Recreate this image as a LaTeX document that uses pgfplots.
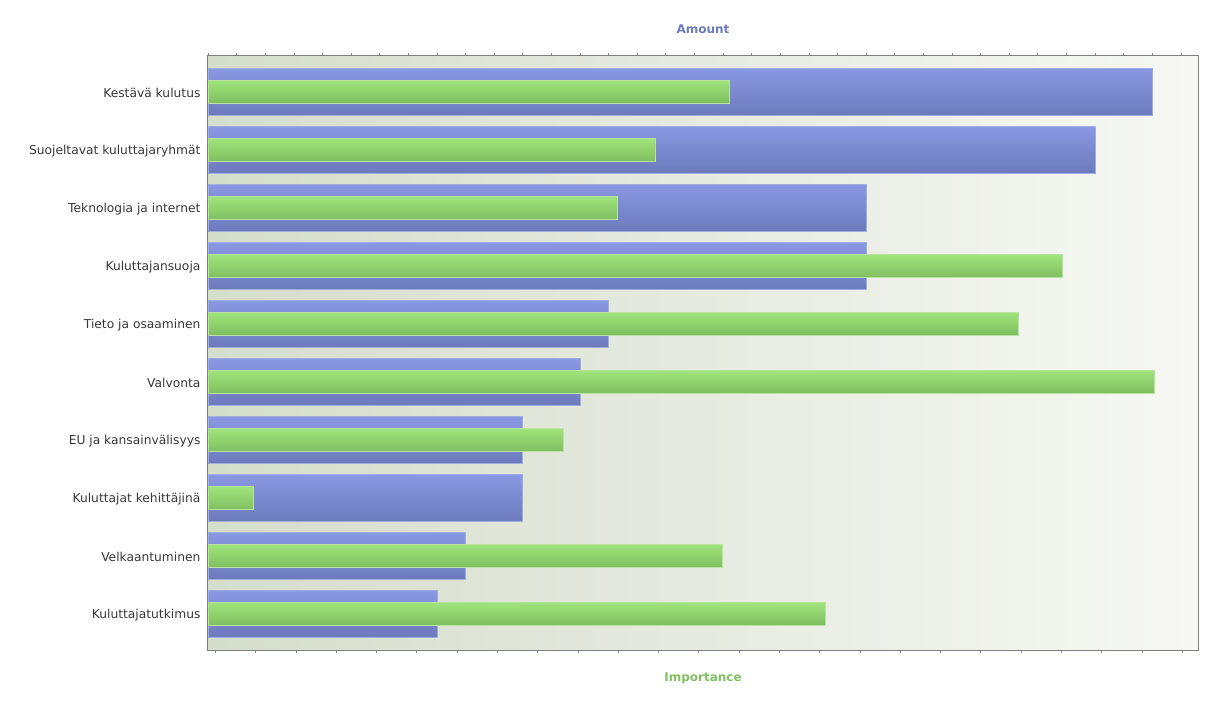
\documentclass[border=0pt]{standalone}
\usepackage{pgfplots}
\pgfplotsset{compat=1.18}
\usepackage{fontspec}
\setmainfont{DejaVu Sans}
\setsansfont{DejaVu Sans}

\definecolor{bgL}{RGB}{213,221,203}
\definecolor{bgR}{RGB}{247,248,244}
\definecolor{blueT}{RGB}{137,152,226}
\definecolor{blueB}{RGB}{108,122,188}
\definecolor{blueE}{RGB}{160,172,228}
\definecolor{greenT}{RGB}{160,228,124}
\definecolor{greenB}{RGB}{128,190,96}
\definecolor{greenE}{RGB}{182,228,160}
\definecolor{amountc}{RGB}{108,122,190}
\definecolor{importc}{RGB}{128,192,96}
\definecolor{framec}{RGB}{128,128,128}
\definecolor{labelc}{RGB}{55,55,55}

% Amount (top axis) and Importance (bottom axis), categories top to bottom
\pgfplotstableread{
idx amount
0 33
1 31
2 23
3 23
4 14
5 13
6 11
7 11
8 9
9 8
}\amounttab
\pgfplotstableread{
idx importance
0 12.95
1 11.09
2 10.15
3 21.20
4 20.12
5 23.48
6 8.83
7 1.12
8 12.77
9 15.31
}\importtab

\begin{document}
\begin{tikzpicture}
\pgfplotsset{
  common/.style={
    scale only axis, width=742.5pt, height=445.5pt,
    xbar, y dir=reverse, ymin=-0.62, ymax=9.62, xmin=0,
    tick align=outside, major tick length=2.5pt,
    tick style={draw=framec, line width=0.5pt},
    axis line style={draw=framec, line width=0.75pt},
    xticklabels={},
  },
}
\begin{axis}[common,
  xmax=34.6,
  xtick={0,1,...,34}, xtick pos=upper,
  ytick={0,...,9}, ytick pos=left, ytick style={draw=none},
  yticklabels={Kestävä kulutus,Suojeltavat kuluttajaryhmät,Teknologia ja internet,Kuluttajansuoja,Tieto ja osaaminen,Valvonta,EU ja kansainvälisyys,Kuluttajat kehittäjinä,Velkaantuminen,Kuluttajatutkimus},
  yticklabel style={font=\fontsize{9.2}{10}\selectfont, text=labelc, inner sep=0pt, xshift=-3pt, yshift=-0.6pt},
  axis background/.style={left color=bgL, right color=bgR},
  xlabel={Amount},
  xlabel style={at={(rel axis cs:0.5,1)}, anchor=center, yshift=20.25pt,
    font=\bfseries\fontsize{9}{10}\selectfont, text=amountc},
]
% one plot per bar so that each bar gets its own vertical shading
\pgfplotsinvokeforeach{0,...,9}{
  \addplot[bar width=35.5pt, bar shift=0pt, top color=blueT, bottom color=blueB,
    draw=blueE, line width=0.4pt, restrict y to domain=#1:#1]
    table[x=amount, y=idx] {\amounttab};
}
\end{axis}
\begin{axis}[common,
  xmax=24.57,
  xtick={0.18,1.18,...,24.18}, xtick pos=lower,
  ytick=\empty, axis line style={draw=none},
  xlabel={Importance},
  xlabel style={at={(rel axis cs:0.5,0)}, anchor=center, yshift=-21pt,
    font=\bfseries\fontsize{9}{10}\selectfont, text=importc},
]
\pgfplotsinvokeforeach{0,...,9}{
  \addplot[bar width=17.5pt, bar shift=0pt, top color=greenT, bottom color=greenB,
    draw=greenE, line width=0.5pt, restrict y to domain=#1:#1]
    table[x=importance, y=idx] {\importtab};
}
\end{axis}
\pgfresetboundingbox
\path (-156pt,-44.25pt) rectangle (761.25pt,487.5pt);
\end{tikzpicture}
\end{document}
